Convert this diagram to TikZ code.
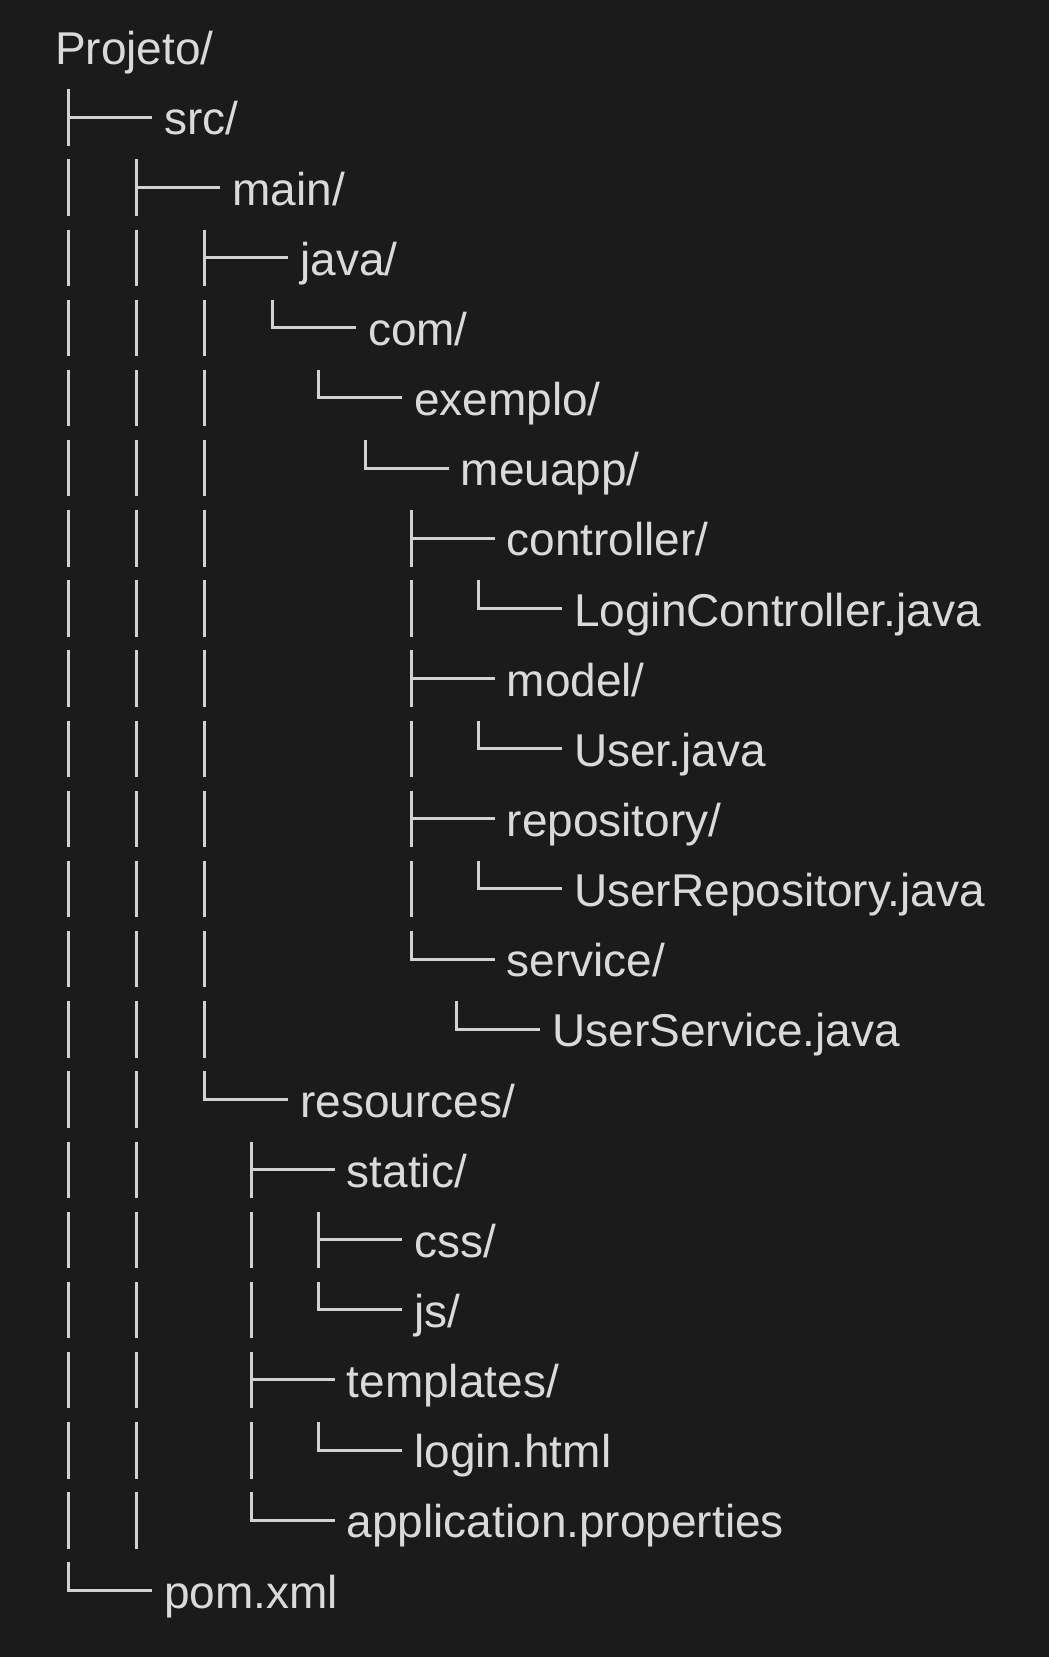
\documentclass[tikz,border=0pt]{standalone}
\usepackage{fontspec}
\setmainfont{Liberation Sans}
\usepackage{tikz}
\usetikzlibrary{positioning}
\tikzstyle{listing} = [x = 1pt, y = -1pt]
\definecolor{bgColor}{HTML}{1B1B1B}
\definecolor{inkColor}{HTML}{DADADA}
\definecolor{lineColor}{HTML}{D2D2D2}
\tikzstyle{treeLine} = [color=lineColor, line width=3pt, line join=miter]
\tikzstyle{entryText} = [anchor=west, color=inkColor, inner xsep=12pt, inner ysep=0pt, text height=38pt, text depth=2.6pt, font=\fontsize{46pt}{55pt}\selectfont]
\newcommand{\rowStep}{70.15}
\newcommand{\rowTop}{47.1}
\newcommand{\entry}[4]{\node [entryText] (#1) at (#2 + 83.5, {\rowTop + \rowStep * #3}) {#4};}
\newcommand{\barLink}[2]{\draw [treeLine] (#1, {\rowTop + \rowStep * #2 - 28}) -- (#1, {\rowTop + \rowStep * #2 + 28.4});}
\newcommand{\teeLink}[3]{\barLink{#1}{#2}\draw [treeLine] (#1, {\rowTop + \rowStep * #2}) -- (#3.west);}
\newcommand{\elbowLink}[3]{\draw [treeLine] (#1, {\rowTop + \rowStep * #2 - 28}) |- (#3.west);}

\begin{document}
\begin{tikzpicture}[listing]
  \fill [bgColor] (0,0) rectangle (1049,1657);
  \node [entryText] (projeto) at (43, \rowTop) {Projeto/};
  % entries
  \entry{src}{68.3}{1}{src/}
  \entry{main}{136.7}{2}{main/}
  \entry{java}{204.7}{3}{java/}
  \entry{com}{272.3}{4}{com/}
  \entry{exemplo}{318.3}{5}{exemplo/}
  \entry{meuapp}{365}{6}{meuapp/}
  \entry{controller}{411}{7}{controller/}
  \entry{loginCtrl}{478.5}{8}{LoginController.java}
  \entry{model}{411}{9}{model/}
  \entry{user}{478.5}{10}{User.java}
  \entry{repository}{411}{11}{repository/}
  \entry{userRepo}{478.5}{12}{UserRepository.java}
  \entry{service}{411}{13}{service/}
  \entry{userService}{456.7}{14}{UserService.java}
  \entry{resources}{204.7}{15}{resources/}
  \entry{static}{251}{16}{static/}
  \entry{css}{318.7}{17}{css/}
  \entry{js}{318.7}{18}{js/}
  \entry{templates}{251}{19}{templates/}
  \entry{login}{318.7}{20}{login.html}
  \entry{appProps}{251}{21}{application.properties}
  \entry{pom}{68.3}{22}{pom.xml}
  % links
  \teeLink{68.3}{1}{src}
  \foreach \r in {2,...,21} {\barLink{68.3}{\r}}
  \elbowLink{68.3}{22}{pom}
  \teeLink{136.7}{2}{main}
  \foreach \r in {3,...,21} {\barLink{136.7}{\r}}
  \teeLink{204.7}{3}{java}
  \foreach \r in {4,...,14} {\barLink{204.7}{\r}}
  \elbowLink{204.7}{15}{resources}
  \elbowLink{272.3}{4}{com}
  \elbowLink{318.3}{5}{exemplo}
  \elbowLink{365}{6}{meuapp}
  \teeLink{411}{7}{controller}
  \barLink{411}{8}
  \teeLink{411}{9}{model}
  \barLink{411}{10}
  \teeLink{411}{11}{repository}
  \barLink{411}{12}
  \elbowLink{411}{13}{service}
  \elbowLink{478.5}{8}{loginCtrl}
  \elbowLink{478.5}{10}{user}
  \elbowLink{478.5}{12}{userRepo}
  \elbowLink{456.7}{14}{userService}
  \teeLink{251}{16}{static}
  \barLink{251}{17}
  \barLink{251}{18}
  \teeLink{251}{19}{templates}
  \barLink{251}{20}
  \elbowLink{251}{21}{appProps}
  \teeLink{318.7}{17}{css}
  \elbowLink{318.7}{18}{js}
  \elbowLink{318.7}{20}{login}
\end{tikzpicture}
\end{document}
